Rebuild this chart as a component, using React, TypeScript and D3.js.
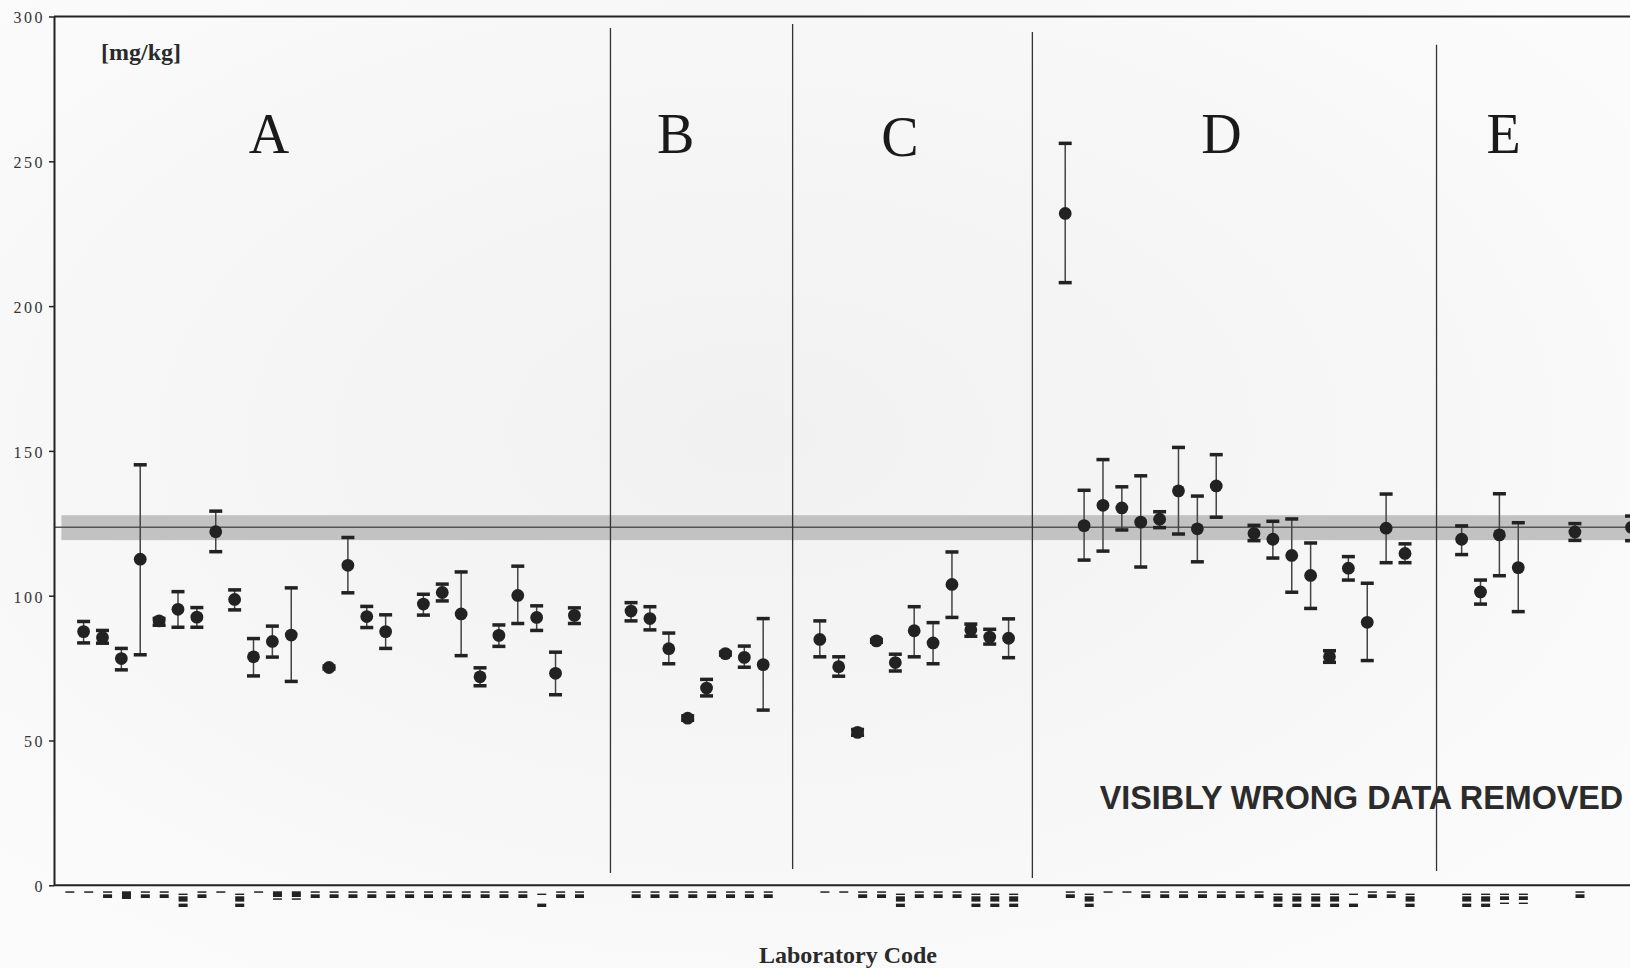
import React, { useRef, useEffect } from 'react'
import * as d3 from 'd3'

const W = 1630
const H = 968

// laboratory results as [mean, lower, upper]; null = lab listed but no result shown
const GROUPS = ['A', 'B', 'C', 'D', 'E']

const groupA = [
  null, [87.6, 83.7, 91.1], [85.6, 83.6, 88.0], [78.3, 74.4, 81.8], [112.6, 79.6, 145.2],
  [91.3, 89.8, 92.1], [95.3, 89.1, 101.4], [92.6, 89.1, 95.9], [122.1, 115.2, 129.2],
  [98.7, 95.1, 102.0], [78.9, 72.3, 85.2], [84.2, 78.8, 89.5], [86.4, 70.4, 102.7], null,
  [75.2, 74.7, 75.7], [110.5, 101.0, 120.1], [92.8, 89.0, 96.3], [87.6, 81.8, 93.4], null,
  [97.1, 93.3, 100.5], [101.1, 98.2, 104.0], [93.7, 79.3, 108.2], [72.0, 68.9, 75.1],
  [86.3, 82.5, 89.9], [100.1, 90.4, 110.2], [92.5, 88.0, 96.5], [73.2, 65.8, 80.5],
  [93.2, 90.4, 95.8],
]
const groupB = [
  [94.7, 91.3, 97.6], [92.1, 88.2, 96.2], [81.7, 76.5, 87.1], [57.7, 57.0, 58.5],
  [68.1, 65.4, 71.1], [80.0, 79.5, 80.5], [78.7, 75.3, 82.6], [76.2, 60.5, 92.1],
]
const groupC = [
  [84.9, 78.9, 91.3], [75.5, 72.2, 78.9], [52.8, 51.8, 53.8], [84.4, 83.9, 84.9],
  [76.9, 74.0, 79.8], [87.9, 78.9, 96.2], [83.7, 76.5, 90.7], [103.9, 92.5, 115.1],
  [88.2, 86.0, 90.2], [85.7, 83.3, 88.4], [85.3, 78.6, 92.0],
]
const groupD = [
  [232.0, 208.1, 256.2], [124.2, 112.3, 136.4], [131.2, 115.4, 147.0], [130.3, 122.7, 137.6],
  [125.4, 109.9, 141.4], [126.4, 123.5, 129.0], [136.2, 121.3, 151.2], [123.1, 111.7, 134.4],
  [137.9, 127.1, 148.7], null, [121.5, 119.0, 124.3], [119.5, 113.0, 125.7],
  [113.9, 101.2, 126.5], [107.0, 95.6, 118.2], [78.9, 77.0, 81.0], [109.5, 105.4, 113.5],
  [90.8, 77.6, 104.3], [123.3, 111.4, 135.1], [114.6, 111.4, 117.9],
]
const groupE = [
  [119.5, 114.2, 124.1], [101.3, 97.1, 105.4], [121.0, 106.9, 135.2], [109.7, 94.5, 125.2],
  null, null, [122.0, 119.1, 124.9], null, null, [123.6, 119.0, 127.5],
]

// laboratory codes are unreadable in the source; kept as glyph codes
const labelsA = ['-', '-', '=', '#', '=', '=', '3', '=', '-', '3', '-', '#-', '#-', '=', '=', '=', '=', '=', '=', '=', '=', '=', '=', '=', '=', '-_', '=', '=']
const labelsB = ['=', '=', '=', '=', '=', '=', '=', '=']
const labelsC = ['-', '-', '=', '=', '3', '=', '=', '=', '3', '3', '3']
const labelsD = ['=', '3', '-', '-', '=', '=', '=', '=', '=', '=', '=', '3', '3', '3', '3', '-_', '=', '=', '3']
const labelsE = ['3', '3', '=-', '=-', '', '', '=', '', '', '']

const Y_TICKS = [0, 50, 100, 150, 200, 250, 300]
const ASSIGNED = 123.6
const ASSIGNED_LOW = 119.2
const ASSIGNED_HIGH = 127.8

const groupData = [groupA, groupB, groupC, groupD, groupE]
const groupLabels = [labelsA, labelsB, labelsC, labelsD, labelsE]

// layout (slot units on the lab axis)
const dividerSlots = [27.91, 37.56, 50.26, 71.67]
const dividerTop = [28, 24, 32, 44.7]
const dividerBottom = [873, 869, 878, 871]
const letterSlots = [9.82, 31.36, 43.25, 60.28, 75.22]

const glyphRows = {
  '-': [[6, 7.5]],
  '=': [[6, 7.5], [9, 12.7]],
  '#': [[6, 13.7]],
  '#-': [[6, 11.7], [13, 14.5]],
  '3': [[8.3, 9.7], [11, 16.3], [18.3, 21.7]],
  '-_': [[8.3, 9.7], [18.3, 21.7]],
  '=-': [[8.3, 9.7], [11, 14.7], [17.3, 18.7]],
}

export default function App() {
  const svgRef = useRef(null)

  useEffect(() => {
    if (!svgRef.current) return
    const svg = d3.select(svgRef.current)
    svg.selectAll('*').remove()

    const axisX = 54
    const x = d3.scaleLinear().domain([0, 79]).range([83.6, 1574.9])
    const y = d3.scaleLinear().domain([0, 300]).range([885.3, 16.5])

    // flatten labs with slot index, two empty slots between groups
    const labs = []
    let slot = -1
    groupData.forEach((arr, gi) => {
      arr.forEach((d, i) => {
        labs.push({ slot, group: GROUPS[gi], d, label: groupLabels[gi][i] || '' })
        slot++
      })
      slot += 2
    })

    const defs = svg.append('defs')
    const grad = defs.append('radialGradient').attr('id', 'bg')
      .attr('cx', '46%').attr('cy', '45%').attr('r', '65%')
    grad.append('stop').attr('offset', '0%').attr('stop-color', '#f1f1f1')
    grad.append('stop').attr('offset', '55%').attr('stop-color', '#f6f6f6')
    grad.append('stop').attr('offset', '100%').attr('stop-color', '#fbfbfb')
    svg.append('rect').attr('width', W).attr('height', H).attr('fill', 'url(#bg)')

    // assigned value band
    svg.append('rect')
      .attr('x', axisX + 7.4).attr('width', W - axisX - 7.4)
      .attr('y', y(ASSIGNED_HIGH)).attr('height', y(ASSIGNED_LOW) - y(ASSIGNED_HIGH))
      .attr('fill', '#c2c2c2')
    svg.append('line')
      .attr('x1', axisX).attr('x2', W)
      .attr('y1', y(ASSIGNED)).attr('y2', y(ASSIGNED))
      .attr('stroke', '#555').attr('stroke-width', 1.5)

    // group letters
    svg.selectAll('text.grp').data(GROUPS).enter().append('text')
      .attr('class', 'grp')
      .attr('x', (d, i) => x(letterSlots[i]))
      .attr('y', d => (d === 'C' ? 155.5 : 153))
      .attr('text-anchor', 'middle')
      .attr('font-family', 'Liberation Serif, serif')
      .attr('font-size', 56)
      .attr('fill', '#1a1a1a')
      .text(d => d)

    svg.append('text')
      .attr('x', 101).attr('y', 59.5)
      .attr('font-family', 'Liberation Serif, serif')
      .attr('font-weight', 'bold').attr('font-size', 24)
      .attr('fill', '#2a2a2a')
      .text('[mg/kg]')

    svg.append('text')
      .attr('x', 1099.8).attr('y', 809.3)
      .attr('font-family', 'Liberation Sans, Arial, sans-serif')
      .attr('font-weight', 'bold').attr('font-size', 32.3)
      .attr('fill', '#2b2b2b')
      .text('VISIBLY WRONG DATA REMOVED')

    // group dividers
    svg.selectAll('line.div').data(dividerSlots).enter().append('line')
      .attr('class', 'div')
      .attr('x1', d => x(d)).attr('x2', d => x(d))
      .attr('y1', (d, i) => dividerTop[i]).attr('y2', (d, i) => dividerBottom[i])
      .attr('stroke', '#333').attr('stroke-width', 1.3)

    // error bars and means
    const pts = labs.filter(l => l.d)
    const g = svg.append('g')
    g.selectAll('line.err').data(pts).enter().append('line')
      .attr('class', 'err')
      .attr('x1', l => x(l.slot)).attr('x2', l => x(l.slot))
      .attr('y1', l => y(l.d[2])).attr('y2', l => y(l.d[1]))
      .attr('stroke', '#444').attr('stroke-width', 1.5)
    ;[1, 2].forEach(k => {
      g.selectAll(`rect.cap${k}`).data(pts).enter().append('rect')
        .attr('class', `cap${k}`)
        .attr('x', l => x(l.slot) - 6.5).attr('width', 13)
        .attr('y', l => y(l.d[k]) - 1.75).attr('height', 3.5)
        .attr('fill', '#222')
    })
    g.selectAll('circle').data(pts).enter().append('circle')
      .attr('cx', l => x(l.slot)).attr('cy', l => y(l.d[0])).attr('r', 6.4)
      .attr('fill', '#222')

    // lab code glyphs under the axis
    const base = y(0)
    const lg = svg.append('g')
    labs.filter(l => l.label).forEach(l => {
      const cx = x(l.slot + 0.27)
      glyphRows[l.label].forEach(r => {
        lg.append('rect')
          .attr('x', cx - 4.5).attr('width', 9)
          .attr('y', base + r[0]).attr('height', r[1] - r[0])
          .attr('fill', '#222')
      })
    })

    // frame and axes
    svg.append('line').attr('x1', axisX).attr('x2', W).attr('y1', y(300)).attr('y2', y(300))
      .attr('stroke', '#222').attr('stroke-width', 2)
    svg.append('line').attr('x1', axisX).attr('x2', W).attr('y1', y(0)).attr('y2', y(0))
      .attr('stroke', '#222').attr('stroke-width', 2)

    const yAxis = svg.append('g')
      .attr('transform', `translate(${axisX},0)`)
      .call(d3.axisLeft(y).tickValues(Y_TICKS).tickSize(5).tickSizeOuter(0).tickPadding(4))
    yAxis.select('.domain').attr('stroke', '#222').attr('stroke-width', 2)
    yAxis.selectAll('.tick line').attr('stroke', '#222').attr('stroke-width', 1.5)
    yAxis.selectAll('text')
      .attr('font-family', 'Liberation Serif, serif')
      .attr('font-size', 16)
      .attr('letter-spacing', 2.5)
      .attr('fill', '#333')
      .attr('dy', '0.4em')

    svg.append('text')
      .attr('x', 848).attr('y', 963.3)
      .attr('text-anchor', 'middle')
      .attr('font-family', 'Liberation Serif, serif')
      .attr('font-weight', 'bold').attr('font-size', 24)
      .attr('fill', '#2a2a2a')
      .text('Laboratory Code')
  }, [])

  return (
    <svg ref={svgRef} width={W} height={H}
      style={{ position: 'absolute', left: 0, top: 0, display: 'block' }} />
  )
}
